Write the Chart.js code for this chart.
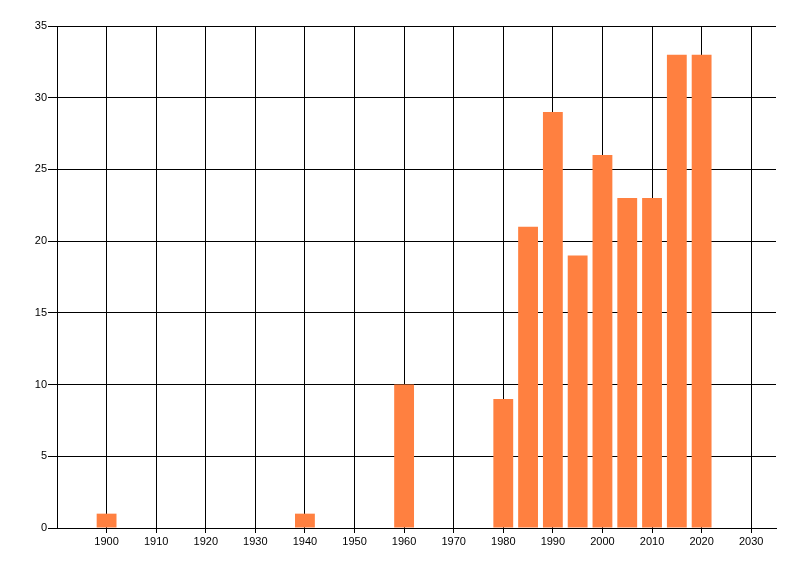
<!DOCTYPE html>
<html>
<head>
<meta charset="utf-8">
<script src="https://cdn.jsdelivr.net/npm/chart.js@4"></script>
<style>
  html, body { margin: 0; padding: 0; background: #fff; }
  #wrap { width: 800px; height: 576px; }
</style>
</head>
<body>
<div id="wrap"><canvas id="grafico"></canvas></div>
<script>
// Años y cantidades
const anios = [1900, 1940, 1960, 1980, 1985, 1990, 1995, 2000, 2005, 2010, 2015, 2020]
const cantidades = [1, 1, 10, 9, 21, 29, 19, 26, 23, 23, 33, 33]
const ticks_x = [1900, 1910, 1920, 1930, 1940, 1950, 1960, 1970, 1980, 1990, 2000, 2010, 2020, 2030]

const puntos = anios.map((a, i) => ({ x: a, y: cantidades[i] }))

Chart.defaults.font.family = 'Liberation Sans'
Chart.defaults.font.size = 11
Chart.defaults.color = '#000'

new Chart(document.getElementById('grafico'), {
  type: 'bar',
  data: {
    datasets: [{
      data: puntos,
      backgroundColor: 'rgb(255, 128, 64)',
      borderWidth: 0,
      barPercentage: 1,
      categoryPercentage: 0.8
    }]
  },
  options: {
    responsive: true,
    maintainAspectRatio: false,
    animation: false,
    layout: { padding: { top: 26, right: 24, left: 0, bottom: 0 } },
    plugins: { legend: { display: false }, tooltip: { enabled: false } },
    scales: {
      x: {
        type: 'linear',
        offset: false,
        min: 1890,
        max: 2035,
        afterBuildTicks: (scale) => {
          scale.ticks = ticks_x.map(v => ({ value: v }))
        },
        afterFit: (scale) => { scale.height = 48 },
        grid: { offset: false, color: '#000', lineWidth: 1, tickLength: 5 },
        border: { color: '#000', width: 1 },
        ticks: { padding: 2, maxRotation: 0, autoSkip: false, callback: (v) => String(v) }
      },
      y: {
        min: 0,
        max: 35,
        afterFit: (scale) => { scale.width = 57 },
        grid: { color: '#000', lineWidth: 1, tickLength: 9 },
        border: { color: '#000', width: 1 },
        ticks: { stepSize: 5, padding: 1 }
      }
    }
  }
})
</script>
</body>
</html>
